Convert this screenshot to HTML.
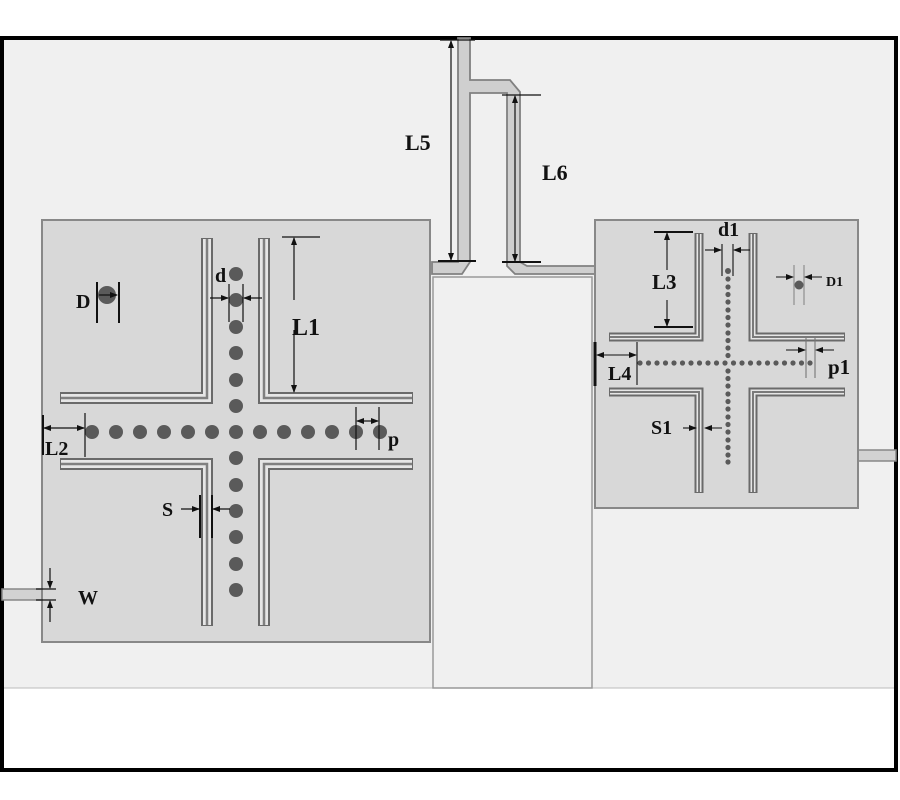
<!DOCTYPE html>
<html><head><style>
html,body{margin:0;padding:0;background:#fff}
svg{display:block}
text{font-family:"Liberation Serif",serif;font-weight:bold;fill:#111}
</style></head><body>
<svg width="900" height="800" viewBox="0 0 900 800" xmlns="http://www.w3.org/2000/svg">
<defs>
<marker id="a" markerWidth="8" markerHeight="8" refX="7" refY="4" orient="auto" markerUnits="userSpaceOnUse"><path d="M0,1 L8,4 L0,7z" fill="#111"/></marker>
</defs>
<rect x="0" y="0" width="900" height="800" fill="#fff"/>
<rect x="2" y="38" width="894" height="650" fill="#f0f0f0"/>
<line x1="2" y1="688" x2="896" y2="688" stroke="#bbb" stroke-width="1"/>
<rect x="2" y="38" width="894" height="732" fill="none" stroke="#000" stroke-width="4"/>

<path d="M458,38 H470 V80 H510 L520,92 V262 L527,266 H595 V274 H515 L507,266 V93 H470 V262 L462,274 H432 V262 H458 Z" fill="#cfcfcf" stroke="#808080" stroke-width="1.8"/>
<rect x="433" y="277" width="159" height="411" fill="#f0f0f0" stroke="#999" stroke-width="1.5"/>
<rect x="2" y="589" width="42" height="11" fill="#d2d2d2" stroke="#888" stroke-width="1.5"/>
<rect x="856" y="450" width="40" height="11" fill="#d2d2d2" stroke="#888" stroke-width="1.5"/>

<rect x="42" y="220" width="388" height="422" fill="#d8d8d8" stroke="#888" stroke-width="2"/>
<g fill="none" stroke-linejoin="miter">
<g stroke="#6a6a6a" stroke-width="12">
<path d="M207,238 V398 H60"/><path d="M264,238 V398 H413"/>
<path d="M60,464 H207 V626"/><path d="M413,464 H264 V626"/>
</g>
<g stroke="#e6e6e6" stroke-width="8">
<path d="M207,239 V398 H61"/><path d="M264,239 V398 H412"/>
<path d="M61,464 H207 V625"/><path d="M412,464 H264 V625"/>
</g>
<g stroke="#808080" stroke-width="2.5">
<path d="M207,239 V398 H61"/><path d="M264,239 V398 H412"/>
<path d="M61,464 H207 V625"/><path d="M412,464 H264 V625"/>
</g>
</g>
<g fill="#5a5a5a">
<circle cx="92" cy="432" r="7"/><circle cx="116" cy="432" r="7"/><circle cx="140" cy="432" r="7"/><circle cx="164" cy="432" r="7"/><circle cx="188" cy="432" r="7"/><circle cx="212" cy="432" r="7"/><circle cx="236" cy="432" r="7"/><circle cx="260" cy="432" r="7"/><circle cx="284" cy="432" r="7"/><circle cx="308" cy="432" r="7"/><circle cx="332" cy="432" r="7"/><circle cx="356" cy="432" r="7"/><circle cx="380" cy="432" r="7"/>
<circle cx="236" cy="274" r="7"/><circle cx="236" cy="300" r="7"/><circle cx="236" cy="327" r="7"/><circle cx="236" cy="353" r="7"/><circle cx="236" cy="380" r="7"/><circle cx="236" cy="406" r="7"/><circle cx="236" cy="458" r="7"/><circle cx="236" cy="485" r="7"/><circle cx="236" cy="511" r="7"/><circle cx="236" cy="537" r="7"/><circle cx="236" cy="564" r="7"/><circle cx="236" cy="590" r="7"/>
<circle cx="107" cy="295" r="9"/>
</g>
<g stroke="#111" stroke-width="1.2" fill="none">
<line x1="97" y1="282" x2="97" y2="323" stroke-width="2"/><line x1="119" y1="282" x2="119" y2="323" stroke-width="2"/>
<line x1="99" y1="295" x2="117" y2="295" marker-end="url(#a)"/>
<line x1="229" y1="284" x2="229" y2="322"/><line x1="243" y1="284" x2="243" y2="322"/>
<line x1="210" y1="298" x2="228" y2="298" marker-end="url(#a)"/><line x1="262" y1="298" x2="244" y2="298" marker-end="url(#a)"/>
<line x1="282" y1="237" x2="320" y2="237"/>
<line x1="294" y1="300" x2="294" y2="238" marker-end="url(#a)"/><line x1="294" y1="330" x2="294" y2="392" marker-end="url(#a)"/>
<line x1="43" y1="415" x2="43" y2="455" stroke-width="2"/><line x1="85" y1="413" x2="85" y2="457"/>
<line x1="64" y1="428" x2="44" y2="428" marker-end="url(#a)"/><line x1="64" y1="428" x2="84" y2="428" marker-end="url(#a)"/>
<line x1="356" y1="407" x2="356" y2="450"/><line x1="379" y1="407" x2="379" y2="450"/>
<line x1="367" y1="421" x2="357" y2="421" marker-end="url(#a)"/><line x1="367" y1="421" x2="378" y2="421" marker-end="url(#a)"/>
<line x1="200" y1="495" x2="200" y2="538" stroke-width="2"/><line x1="212" y1="495" x2="212" y2="538" stroke-width="2"/>
<line x1="181" y1="509" x2="199" y2="509" marker-end="url(#a)"/><line x1="230" y1="509" x2="213" y2="509" marker-end="url(#a)"/>
<line x1="36" y1="589" x2="56" y2="589"/><line x1="36" y1="600" x2="56" y2="600"/>
<line x1="50" y1="568" x2="50" y2="588" marker-end="url(#a)"/><line x1="50" y1="622" x2="50" y2="601" marker-end="url(#a)"/>
<line x1="440" y1="40" x2="475" y2="40"/><line x1="438" y1="261" x2="476" y2="261" stroke-width="2"/>
<line x1="451" y1="150" x2="451" y2="41" marker-end="url(#a)"/><line x1="451" y1="150" x2="451" y2="260" marker-end="url(#a)"/>
<line x1="502" y1="95" x2="541" y2="95"/><line x1="502" y1="262" x2="541" y2="262" stroke-width="2"/>
<line x1="515" y1="170" x2="515" y2="96" marker-end="url(#a)"/><line x1="515" y1="170" x2="515" y2="261" marker-end="url(#a)"/>
</g>

<rect x="595" y="220" width="263" height="288" fill="#d8d8d8" stroke="#888" stroke-width="2"/>
<g fill="none">
<g stroke="#6a6a6a" stroke-width="9">
<path d="M699,233 V337 H609"/><path d="M753,233 V337 H845"/>
<path d="M609,392 H699 V493"/><path d="M845,392 H753 V493"/>
</g>
<g stroke="#e6e6e6" stroke-width="5">
<path d="M699,234 V337 H610"/><path d="M753,234 V337 H844"/>
<path d="M610,392 H699 V492"/><path d="M844,392 H753 V492"/>
</g>
<g stroke="#7a7a7a" stroke-width="2">
<path d="M699,234 V337 H610"/><path d="M753,234 V337 H844"/>
<path d="M610,392 H699 V492"/><path d="M844,392 H753 V492"/>
</g>
</g>
<g fill="#5a5a5a">
<circle cx="640" cy="363" r="2.6"/><circle cx="648.5" cy="363" r="2.6"/><circle cx="657" cy="363" r="2.6"/><circle cx="665.5" cy="363" r="2.6"/><circle cx="674" cy="363" r="2.6"/><circle cx="682.5" cy="363" r="2.6"/><circle cx="691" cy="363" r="2.6"/><circle cx="699.5" cy="363" r="2.6"/><circle cx="708" cy="363" r="2.6"/><circle cx="716.5" cy="363" r="2.6"/><circle cx="725" cy="363" r="2.6"/><circle cx="733.5" cy="363" r="2.6"/><circle cx="742" cy="363" r="2.6"/><circle cx="750.5" cy="363" r="2.6"/><circle cx="759" cy="363" r="2.6"/><circle cx="767.5" cy="363" r="2.6"/><circle cx="776" cy="363" r="2.6"/><circle cx="784.5" cy="363" r="2.6"/><circle cx="793" cy="363" r="2.6"/><circle cx="801.5" cy="363" r="2.6"/><circle cx="810" cy="363" r="2.6"/>
<circle cx="728" cy="271" r="3"/><circle cx="728" cy="279" r="2.6"/><circle cx="728" cy="287" r="2.6"/><circle cx="728" cy="294.5" r="2.6"/><circle cx="728" cy="302" r="2.6"/><circle cx="728" cy="310" r="2.6"/><circle cx="728" cy="317.5" r="2.6"/><circle cx="728" cy="325" r="2.6"/><circle cx="728" cy="333" r="2.6"/><circle cx="728" cy="340.5" r="2.6"/><circle cx="728" cy="348" r="2.6"/><circle cx="728" cy="355.5" r="2.6"/><circle cx="728" cy="371" r="2.6"/><circle cx="728" cy="378.5" r="2.6"/><circle cx="728" cy="386" r="2.6"/><circle cx="728" cy="394" r="2.6"/><circle cx="728" cy="401.5" r="2.6"/><circle cx="728" cy="409" r="2.6"/><circle cx="728" cy="417" r="2.6"/><circle cx="728" cy="424.5" r="2.6"/><circle cx="728" cy="432" r="2.6"/><circle cx="728" cy="440" r="2.6"/><circle cx="728" cy="447.5" r="2.6"/><circle cx="728" cy="455" r="2.6"/><circle cx="728" cy="462" r="2.6"/>
<circle cx="799" cy="285" r="4.5"/>
</g>
<g stroke="#111" stroke-width="1.1" fill="none">
<line x1="654" y1="232" x2="693" y2="232" stroke-width="2"/><line x1="654" y1="327" x2="693" y2="327" stroke-width="2"/>
<line x1="667" y1="270" x2="667" y2="233" marker-end="url(#a)"/><line x1="667" y1="300" x2="667" y2="326" marker-end="url(#a)"/>
<line x1="722" y1="244" x2="722" y2="276"/><line x1="733" y1="244" x2="733" y2="276"/>
<line x1="705" y1="250" x2="721" y2="250" marker-end="url(#a)"/><line x1="750" y1="250" x2="734" y2="250" marker-end="url(#a)"/>
<line x1="595" y1="342" x2="595" y2="386" stroke-width="3"/><line x1="637" y1="342" x2="637" y2="385"/>
<line x1="616" y1="355" x2="597" y2="355" marker-end="url(#a)"/><line x1="616" y1="355" x2="636" y2="355" marker-end="url(#a)"/>
<line x1="806" y1="338" x2="806" y2="378" stroke="#777"/><line x1="815" y1="338" x2="815" y2="378" stroke="#777"/>
<line x1="786" y1="350" x2="805" y2="350" marker-end="url(#a)"/><line x1="834" y1="350" x2="816" y2="350" marker-end="url(#a)"/>
<line x1="794" y1="265" x2="794" y2="305" stroke="#888"/><line x1="804" y1="265" x2="804" y2="305" stroke="#888"/>
<line x1="776" y1="277" x2="793" y2="277" marker-end="url(#a)"/><line x1="822" y1="277" x2="805" y2="277" marker-end="url(#a)"/>
<line x1="683" y1="428" x2="696" y2="428" marker-end="url(#a)"/><line x1="722" y1="428" x2="705" y2="428" marker-end="url(#a)"/>
</g>

<text x="405" y="150" font-size="22">L5</text>
<text x="542" y="180" font-size="22">L6</text>
<text x="292" y="335" font-size="24">L1</text>
<text x="76" y="308" font-size="20">D</text>
<text x="215" y="282" font-size="20">d</text>
<text x="45" y="455" font-size="20" font-weight="normal">L2</text>
<text x="388" y="446" font-size="20">p</text>
<text x="162" y="516" font-size="20">S</text>
<text x="78" y="604" font-size="20">W</text>
<text x="652" y="289" font-size="21" font-weight="normal">L3</text>
<text x="718" y="236" font-size="20" font-weight="normal">d1</text>
<text x="826" y="286" font-size="14">D1</text>
<text x="608" y="380" font-size="20" font-weight="normal">L4</text>
<text x="828" y="374" font-size="21">p1</text>
<text x="651" y="434" font-size="20" font-weight="normal">S1</text>
</svg>
</body></html>
